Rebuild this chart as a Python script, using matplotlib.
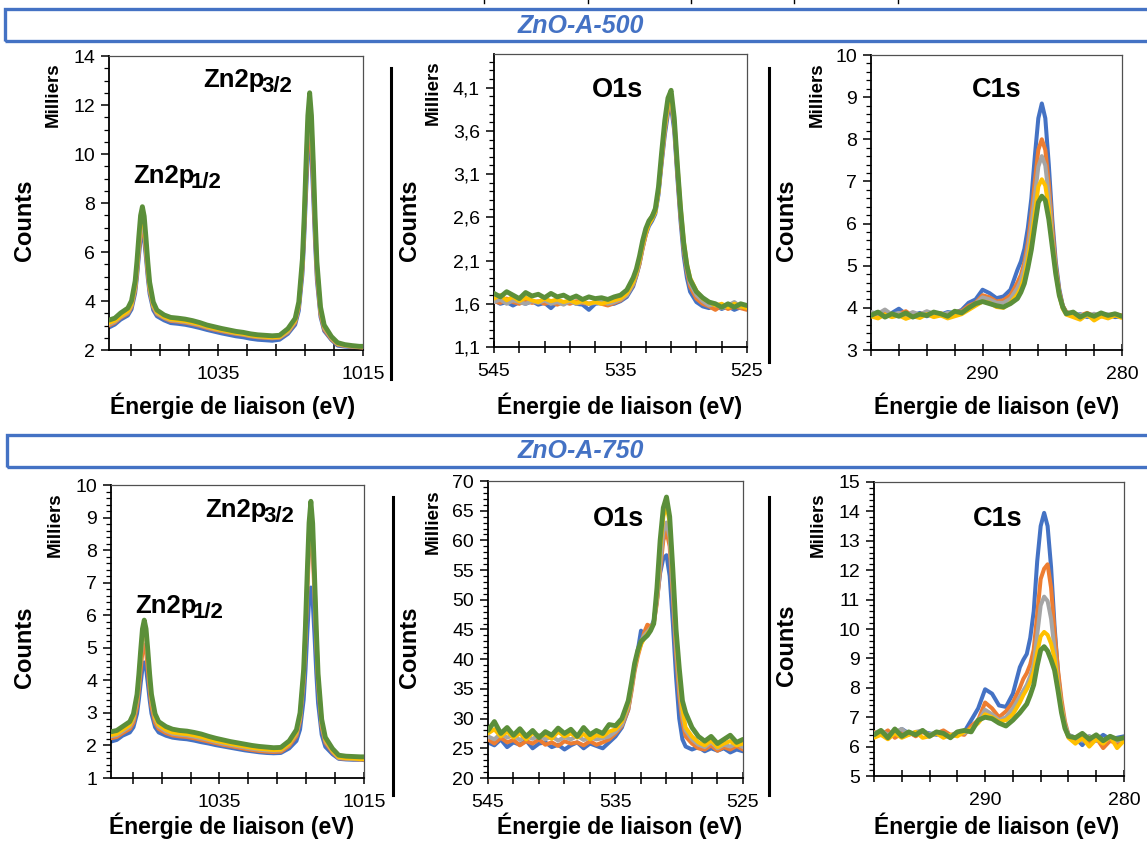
import numpy as np
import matplotlib
matplotlib.use("Agg")
import matplotlib.pyplot as plt
from matplotlib.ticker import MultipleLocator, FixedLocator, FuncFormatter
from matplotlib.patches import Rectangle
from matplotlib.lines import Line2D

plt.rcParams['font.family'] = ['Liberation Sans', 'DejaVu Sans']

# ---------------- DATA ----------------
SERIES_COLORS = ['#4472C4', '#ED7D31', '#A5A5A5', '#FFC000', '#5B8F3A']

# Zn2p binding energies (eV)
X_ZN = [1050, 1049.2,
        1048.4, 1047.4, 1046.9, 1046.4, 1046.15, 1045.9, 1045.65, 1045.4, 1045.15, 1044.9, 1044.65, 1044.4, 1043.9, 1043.4, 1042.4,
        1041.5, 1040.5, 1039.5, 1038.5, 1037.5, 1036.5, 1035.5, 1034.5, 1033.5, 1032.5, 1031.5, 1030.5, 1029.5, 1028.5, 1027.5, 1026.5,
        1025.35, 1024.35, 1023.85, 1023.35, 1023.1, 1022.85, 1022.6, 1022.35, 1022.1, 1021.85, 1021.6, 1021.35, 1020.85, 1020.35, 1019.35,
        1018.5, 1017.5, 1016.5, 1015.5, 1015]

# ZnO-A-500, Zn2p (milliers de counts)
ZN500_BLUE = [2.92, 3.04,
              3.24, 3.41, 3.66, 4.32, 4.97, 5.78, 6.51, 6.8, 6.48, 5.75, 4.94, 4.29, 3.63, 3.38, 3.21,
              3.1, 3.07, 3.03, 2.97, 2.9, 2.82, 2.75, 2.68, 2.62, 2.56, 2.52, 2.46, 2.42, 2.4, 2.38, 2.42,
              2.66, 3.03, 3.6, 5.09, 6.59, 8.4, 10.0, 10.6, 9.95, 8.2, 6.35, 4.85, 3.35, 2.78, 2.41,
              2.18, 2.14, 2.12, 2.1, 2.08]
ZN500_ORANGE = [3.0, 3.12,
                3.32, 3.49, 3.76, 4.45, 5.13, 5.98, 6.74, 7.05, 6.72, 5.96, 5.11, 4.43, 3.74, 3.47, 3.3,
                3.19, 3.16, 3.12, 3.06, 2.99, 2.9, 2.83, 2.77, 2.71, 2.66, 2.62, 2.56, 2.52, 2.5, 2.48, 2.5,
                2.72, 3.12, 3.74, 5.3, 6.9, 8.8, 10.46, 11.2, 10.43, 8.65, 6.7, 5.05, 3.45, 2.84, 2.44,
                2.22, 2.17, 2.13, 2.11, 2.1]
ZN500_GRAY = [3.05, 3.16,
              3.35, 3.53, 3.81, 4.53, 5.25, 6.13, 6.93, 7.25, 6.9, 6.1, 5.22, 4.5, 3.78, 3.5, 3.32,
              3.22, 3.19, 3.15, 3.09, 3.02, 2.93, 2.86, 2.8, 2.74, 2.68, 2.64, 2.58, 2.54, 2.52, 2.5, 2.52,
              2.75, 3.17, 3.81, 5.45, 7.14, 9.18, 10.94, 11.7, 10.9, 9.05, 6.93, 5.22, 3.55, 2.9, 2.48,
              2.24, 2.18, 2.14, 2.12, 2.11]
ZN500_YELLOW = [3.1, 3.2,
                3.38, 3.58, 3.87, 4.63, 5.39, 6.32, 7.16, 7.5, 7.13, 6.29, 5.36, 4.6, 3.84, 3.55, 3.35,
                3.25, 3.22, 3.18, 3.12, 3.05, 2.96, 2.88, 2.82, 2.76, 2.7, 2.66, 2.6, 2.56, 2.54, 2.52, 2.54,
                2.8, 3.2, 3.87, 5.58, 7.4, 9.5, 11.3, 12.2, 11.3, 9.45, 7.27, 5.47, 3.65, 2.96, 2.52,
                2.26, 2.2, 2.16, 2.14, 2.13]
ZN500_GREEN = [3.22, 3.3,
               3.51, 3.71, 4.01, 4.81, 5.62, 6.6, 7.49, 7.85, 7.46, 6.57, 5.59, 4.77, 3.96, 3.63, 3.43,
               3.33, 3.3, 3.26, 3.2, 3.12, 3.02, 2.95, 2.88, 2.82, 2.76, 2.72, 2.66, 2.62, 2.6, 2.58, 2.6,
               2.87, 3.29, 3.96, 5.72, 7.47, 9.63, 11.57, 12.5, 11.57, 9.67, 7.44, 5.6, 3.75, 3.02, 2.55,
               2.3, 2.22, 2.18, 2.15, 2.15]

# ZnO-A-750, Zn2p
ZN750_BLUE = [2.12, 2.17,
              2.3, 2.4, 2.56, 2.98, 3.4, 3.9, 4.37, 4.55, 4.37, 3.9, 3.4, 2.98, 2.56, 2.4, 2.3,
              2.24, 2.21, 2.19, 2.15, 2.1, 2.06, 2.01, 1.97, 1.93, 1.89, 1.85, 1.82, 1.79, 1.77, 1.76, 1.77,
              1.91, 2.14, 2.49, 3.4, 4.3, 5.44, 6.45, 6.85, 6.43, 5.4, 4.23, 3.3, 2.33, 1.96, 1.73,
              1.59, 1.57, 1.56, 1.56, 1.55]
ZN750_ORANGE = [2.22, 2.26,
                2.38, 2.51, 2.7, 3.2, 3.71, 4.32, 4.88, 5.1, 4.88, 4.32, 3.71, 3.2, 2.7, 2.51, 2.38,
                2.31, 2.28, 2.26, 2.22, 2.17, 2.12, 2.07, 2.02, 1.98, 1.94, 1.9, 1.86, 1.83, 1.81, 1.8, 1.81,
                1.99, 2.29, 2.76, 3.97, 5.18, 6.68, 8.03, 8.5, 8.0, 6.62, 5.1, 3.86, 2.56, 2.09, 1.79,
                1.61, 1.59, 1.58, 1.57, 1.57]
ZN750_GRAY = [2.28, 2.32,
              2.44, 2.58, 2.81, 3.38, 3.96, 4.66, 5.3, 5.55, 5.3, 4.66, 3.96, 3.38, 2.81, 2.58, 2.44,
              2.36, 2.33, 2.31, 2.27, 2.22, 2.17, 2.11, 2.06, 2.02, 1.98, 1.94, 1.9, 1.87, 1.85, 1.84, 1.85,
              2.04, 2.36, 2.85, 4.11, 5.38, 6.96, 8.37, 8.9, 8.35, 6.9, 5.3, 4.0, 2.65, 2.14, 1.82,
              1.62, 1.6, 1.59, 1.58, 1.58]
ZN750_YELLOW = [2.32, 2.36,
                2.48, 2.63, 2.86, 3.46, 4.05, 4.78, 5.44, 5.7, 5.44, 4.78, 4.05, 3.46, 2.86, 2.63, 2.48,
                2.4, 2.37, 2.35, 2.31, 2.26, 2.2, 2.14, 2.1, 2.05, 2.01, 1.97, 1.93, 1.9, 1.88, 1.86, 1.87,
                2.06, 2.4, 2.91, 4.22, 5.53, 7.17, 8.62, 9.2, 8.6, 7.1, 5.45, 4.1, 2.72, 2.18, 1.84,
                1.64, 1.61, 1.6, 1.58, 1.58]
ZN750_GREEN = [2.42, 2.46,
               2.58, 2.73, 2.97, 3.57, 4.18, 4.91, 5.58, 5.85, 5.58, 4.91, 4.18, 3.57, 2.97, 2.73, 2.58,
               2.5, 2.46, 2.44, 2.4, 2.35, 2.28, 2.22, 2.17, 2.12, 2.08, 2.04, 2.0, 1.97, 1.95, 1.93, 1.94,
               2.14, 2.48, 3.0, 4.33, 5.68, 7.33, 8.84, 9.5, 8.82, 7.27, 5.6, 4.2, 2.8, 2.25, 1.9,
               1.7, 1.67, 1.66, 1.65, 1.65]

# O1s binding energies (eV)
X_O = [545, 544.5, 544, 543.5, 543, 542.5, 542, 541.5, 541, 540.5, 540, 539.5, 539, 538.5, 538, 537.5,
       537, 536.5, 536, 535.5, 535, 534.5, 534,
       533.75, 533.5, 533.25, 533, 532.75, 532.5, 532.25, 532, 531.75, 531.5, 531.25, 531,
       530.75, 530.5, 530.25, 530, 529.75, 529.5,
       529, 528.5, 528, 527.5, 527, 526.5, 526, 525.5, 525]

O500_BLUE = [1.64, 1.6, 1.62, 1.58, 1.62, 1.6, 1.63, 1.59, 1.61, 1.55, 1.62, 1.6, 1.63, 1.6, 1.59, 1.53,
             1.6, 1.61, 1.59, 1.6, 1.63, 1.68, 1.8,
             1.92, 2.06, 2.25, 2.4, 2.5, 2.56, 2.64, 2.86, 3.22, 3.55, 3.8, 3.88,
             3.6, 3.05, 2.55, 2.15, 1.9, 1.74,
             1.62, 1.57, 1.55, 1.58, 1.54, 1.57, 1.53, 1.56, 1.55]
O500_ORANGE = [1.63, 1.61, 1.66, 1.62, 1.6, 1.64, 1.61, 1.63, 1.6, 1.62, 1.59, 1.62, 1.6, 1.63, 1.61, 1.6,
               1.62, 1.6, 1.58, 1.61, 1.64, 1.7, 1.82,
               1.93, 2.06, 2.24, 2.4, 2.55, 2.62, 2.68, 2.9, 3.25, 3.6, 3.85, 3.93,
               3.66, 3.1, 2.6, 2.22, 1.97, 1.8,
               1.66, 1.6, 1.57, 1.53, 1.58, 1.54, 1.57, 1.55, 1.53]
O500_GRAY = [1.62, 1.65, 1.6, 1.64, 1.62, 1.6, 1.63, 1.61, 1.64, 1.6, 1.62, 1.59, 1.63, 1.6, 1.62, 1.6,
             1.61, 1.63, 1.6, 1.62, 1.65, 1.7, 1.83,
             1.94, 2.08, 2.26, 2.42, 2.54, 2.6, 2.66, 2.88, 3.28, 3.62, 3.88, 3.95,
             3.68, 3.15, 2.65, 2.26, 2.0, 1.84,
             1.7, 1.63, 1.58, 1.6, 1.55, 1.58, 1.62, 1.56, 1.57]
O500_YELLOW = [1.66, 1.7, 1.64, 1.68, 1.63, 1.67, 1.64, 1.62, 1.66, 1.63, 1.65, 1.62, 1.64, 1.61, 1.63, 1.6,
               1.62, 1.6, 1.62, 1.64, 1.66, 1.72, 1.85,
               1.96, 2.1, 2.28, 2.42, 2.52, 2.58, 2.66, 2.9, 3.3, 3.65, 3.9, 3.98,
               3.72, 3.2, 2.72, 2.33, 2.06, 1.9,
               1.75, 1.66, 1.62, 1.58, 1.6, 1.56, 1.6, 1.57, 1.55]
O500_GREEN = [1.72, 1.68, 1.74, 1.7, 1.66, 1.73, 1.69, 1.71, 1.67, 1.72, 1.68, 1.7, 1.66, 1.69, 1.65, 1.68,
              1.66, 1.67, 1.65, 1.68, 1.7, 1.76, 1.9,
              2.0, 2.15, 2.33, 2.47, 2.56, 2.61, 2.7, 2.95, 3.35, 3.72, 3.98, 4.07,
              3.75, 3.2, 2.7, 2.3, 2.04, 1.88,
              1.74, 1.67, 1.62, 1.6, 1.56, 1.6, 1.56, 1.6, 1.58]

O750_BLUE = [26.0, 25.5, 26.5, 25.2, 26.0, 25.6, 26.3, 25.0, 25.8, 26.0, 25.2, 25.6, 24.8, 25.5, 26.0, 25.0,
             25.8, 25.4, 25.0, 26.0, 27.0, 28.5, 31.5,
             35.0, 38.5, 41.5, 44.8, 44.2, 44.5, 45.2, 46.5, 50.0, 54.5, 57.0, 57.5,
             54.0, 46.0, 37.0, 30.0, 26.5, 25.3,
             24.8, 25.2, 24.5, 25.0, 24.6, 25.0, 24.3, 24.8, 24.5]
O750_ORANGE = [26.5, 25.8, 26.8, 26.0, 26.4, 25.5, 26.2, 25.8, 26.5, 25.6, 26.0, 25.4, 26.2, 25.8, 26.0, 25.5,
               26.2, 25.6, 26.0, 26.5, 27.5, 28.8, 31.5,
               34.5, 38.0, 40.5, 42.5, 44.5, 45.8, 45.5, 46.0, 49.5, 55.0, 60.0, 61.5,
               59.0, 50.5, 41.0, 34.0, 29.5, 27.0,
               25.8, 25.0, 24.8, 25.5, 24.6, 25.2, 24.8, 25.4, 24.8]
O750_GRAY = [27.0, 26.5, 27.5, 26.8, 27.2, 26.4, 27.0, 26.6, 27.2, 26.5, 27.0, 26.3, 26.9, 26.5, 27.1, 26.4,
             26.8, 26.5, 26.7, 27.0, 27.8, 29.0, 32.0,
             35.0, 38.5, 41.0, 43.0, 44.0, 44.6, 45.2, 46.0, 50.0, 56.0, 61.5, 63.0,
             60.5, 52.0, 42.5, 35.5, 30.5, 28.0,
             26.5, 25.6, 25.2, 26.0, 25.0, 25.6, 25.3, 25.8, 25.2]
O750_YELLOW = [27.5, 28.2, 27.0, 27.8, 26.8, 27.5, 26.5, 27.6, 27.0, 27.3, 26.6, 27.8, 27.0, 27.5, 26.8, 27.4,
               26.5, 27.2, 27.0, 27.8, 28.2, 29.5, 32.5,
               35.5, 38.8, 41.0, 42.5, 43.5, 44.3, 45.0, 46.0, 51.0, 58.5, 64.0, 66.0,
               63.0, 54.0, 44.0, 37.0, 31.5, 28.5,
               27.0, 26.0, 25.5, 26.3, 25.2, 25.8, 26.2, 25.5, 25.8]
O750_GREEN = [28.0, 29.5, 27.5, 28.5, 27.2, 28.3, 27.0, 28.0, 26.8, 27.8, 27.2, 28.4, 27.5, 28.2, 27.0, 28.5,
              27.3, 28.0, 27.5, 29.0, 28.8, 30.0, 33.0,
              36.0, 39.3, 41.5, 43.0, 43.5, 44.0, 44.8, 46.0, 52.0, 60.0, 65.5, 67.3,
              64.0, 55.0, 45.0, 38.5, 33.0, 31.0,
              28.5, 27.0, 26.2, 27.0, 25.8, 26.5, 27.2, 26.0, 26.5]

# C1s binding energies (eV)
X_C = [298, 297.5, 297, 296.5, 296, 295.5, 295, 294.5, 294, 293.5, 293, 292.5, 292, 291.5, 291, 290.5,
       290, 289.5, 289, 288.5, 288,
       287.5, 287.25, 287, 286.75, 286.5, 286.25, 286, 285.75, 285.5, 285.25, 285, 284.75, 284.5, 284.25, 284,
       283.5, 283, 282.5, 282, 281.5, 281, 280.5, 280]

C500_BLUE = [3.85, 3.9, 3.8, 3.88, 3.98, 3.85, 3.82, 3.88, 3.8, 3.86, 3.84, 3.9, 3.88, 3.95, 4.12, 4.2,
             4.43, 4.35, 4.23, 4.27, 4.43,
             4.9, 5.1, 5.4, 5.9, 6.6, 7.6, 8.5, 8.85, 8.5, 7.4, 6.1, 5.1, 4.45, 4.05, 3.9,
             3.82, 3.85, 3.78, 3.82, 3.8, 3.84, 3.78, 3.8]
C500_ORANGE = [3.88, 3.82, 3.9, 3.84, 3.86, 3.92, 3.8, 3.85, 3.9, 3.83, 3.87, 3.82, 3.9, 3.92, 4.05, 4.12,
               4.3, 4.25, 4.15, 4.18, 4.3,
               4.6, 4.78, 5.08, 5.55, 6.2, 7.0, 7.75, 8.0, 7.75, 6.95, 5.9, 5.0, 4.4, 4.05, 3.9,
               3.85, 3.82, 3.88, 3.8, 3.86, 3.83, 3.85, 3.82]
C500_GRAY = [3.9, 3.86, 3.96, 3.84, 3.88, 3.82, 3.9, 3.84, 3.92, 3.86, 3.82, 3.88, 3.85, 3.9, 4.0, 4.1,
             4.25, 4.2, 4.12, 4.12, 4.22,
             4.47, 4.65, 4.95, 5.38, 5.95, 6.65, 7.35, 7.6, 7.38, 6.65, 5.7, 4.9, 4.35, 4.0, 3.86,
             3.8, 3.84, 3.8, 3.86, 3.8, 3.82, 3.84, 3.78]
C500_YELLOW = [3.8, 3.75, 3.84, 3.78, 3.82, 3.74, 3.8, 3.76, 3.85, 3.78, 3.82, 3.75, 3.8, 3.85, 3.95, 4.05,
               4.15, 4.12, 4.02, 4.0, 4.12,
               4.32, 4.48, 4.75, 5.15, 5.65, 6.25, 6.88, 7.05, 6.9, 6.35, 5.55, 4.85, 4.3, 3.98, 3.84,
               3.78, 3.72, 3.84, 3.7, 3.8, 3.75, 3.82, 3.76]
C500_GREEN = [3.82, 3.9, 3.78, 3.86, 3.8, 3.88, 3.78, 3.85, 3.82, 3.9, 3.86, 3.8, 3.92, 3.88, 4.0, 4.1,
              4.15, 4.1, 4.05, 4.02, 4.1,
              4.22, 4.37, 4.58, 4.95, 5.38, 5.95, 6.5, 6.65, 6.55, 6.1, 5.45, 4.8, 4.3, 4.02, 3.86,
              3.9, 3.78, 3.86, 3.8, 3.88, 3.82, 3.86, 3.8]

C750_BLUE = [6.4, 6.5, 6.45, 6.35, 6.6, 6.45, 6.4, 6.5, 6.45, 6.4, 6.5, 6.35, 6.45, 6.5, 6.9, 7.3,
             7.95, 7.8, 7.4, 7.35, 7.8,
             8.7, 8.95, 9.15, 9.7, 10.6, 12.3, 13.5, 13.95, 13.5, 12.1, 10.1, 8.5, 7.4, 6.7, 6.4,
             6.3, 6.05, 6.35, 6.2, 6.4, 6.25, 6.3, 6.35]
C750_ORANGE = [6.5, 6.4, 6.55, 6.3, 6.45, 6.5, 6.35, 6.5, 6.4, 6.45, 6.55, 6.4, 6.45, 6.4, 6.7, 6.9,
               7.5, 7.3, 7.0, 7.2, 7.5,
               8.0, 8.3, 8.5, 8.8, 9.3, 10.5, 11.7, 12.05, 12.2, 11.4, 9.9, 8.6, 7.6, 6.85, 6.4,
               6.2, 6.4, 6.1, 6.3, 5.95, 6.2, 6.1, 6.3]
C750_GRAY = [6.45, 6.55, 6.4, 6.5, 6.6, 6.4, 6.5, 6.55, 6.4, 6.5, 6.45, 6.35, 6.5, 6.45, 6.6, 6.85,
             7.25, 7.1, 6.9, 7.0, 7.3,
             7.7, 7.9, 8.1, 8.4, 8.8, 9.8, 10.8, 11.1, 10.95, 10.35, 9.3, 8.25, 7.4, 6.75, 6.4,
             6.3, 6.2, 6.35, 6.25, 6.15, 6.3, 6.2, 6.25]
C750_YELLOW = [6.3, 6.4, 6.25, 6.45, 6.3, 6.4, 6.5, 6.3, 6.35, 6.45, 6.3, 6.4, 6.35, 6.5, 6.6, 6.8,
               7.1, 7.0, 6.85, 6.9, 7.1,
               7.5, 7.75, 7.95, 8.2, 8.55, 9.2, 9.75, 9.9, 9.8, 9.5, 9.0, 8.1, 7.3, 6.65, 6.3,
               6.1, 6.3, 6.0, 6.25, 6.1, 6.35, 5.95, 6.2]
C750_GREEN = [6.4, 6.55, 6.3, 6.6, 6.35, 6.5, 6.4, 6.55, 6.35, 6.5, 6.45, 6.3, 6.5, 6.55, 6.5, 6.9,
              7.0, 6.95, 6.8, 6.7, 6.9,
              7.15, 7.3, 7.45, 7.75, 8.1, 8.75, 9.28, 9.4, 9.25, 8.95, 8.6, 7.9, 7.15, 6.62, 6.35,
              6.3, 6.45, 6.25, 6.4, 6.2, 6.35, 6.25, 6.3]

HEADERS = ['ZnO-A-500', 'ZnO-A-750']
PEAK_LABELS = ['O1s', 'C1s']
ZN_MAIN = 'Zn2p'
ZN_SUBS = ['3/2', '1/2']
Y_LABEL = 'Counts'
Y_UNIT = 'Milliers'
X_LABEL = 'Énergie de liaison (eV)'

# ---------------- FIGURE ----------------
W, H = 1147, 846
fig = plt.figure(figsize=(W / 100, H / 100), dpi=100)


def fx(x):
    return x / W


def fy(y):
    return 1 - y / H


def axes_px(l, r, t, b):
    return fig.add_axes([l / W, 1 - b / H, (r - l) / W, (b - t) / H])


def comma_fmt(v, pos):
    return ('%.1f' % v).replace('.', ',')


def style_axes(ax, xlim, xmaj, xmin, ylim, yticks, yminor, fmt=None):
    ax.set_xlim(xlim)
    ax.set_ylim(ylim)
    ax.xaxis.set_major_locator(FixedLocator(xmaj))
    ax.xaxis.set_minor_locator(FixedLocator(xmin))
    ax.set_yticks(yticks)
    ax.yaxis.set_minor_locator(MultipleLocator(yminor))
    if fmt is not None:
        ax.yaxis.set_major_formatter(FuncFormatter(fmt))
    ax.tick_params(axis='y', which='major', direction='out', length=6, width=1.1,
                   labelsize=14, pad=4, colors='black')
    ax.tick_params(axis='y', which='minor', direction='out', length=3.5, width=0.9)
    ax.tick_params(axis='x', which='both', direction='inout', length=9, width=1.1,
                   labelsize=14, pad=7)
    for s in ['left', 'bottom']:
        ax.spines[s].set_color('black')
        ax.spines[s].set_linewidth(1.3)
    for s in ['top', 'right']:
        ax.spines[s].set_color('#505050')
        ax.spines[s].set_linewidth(0.9)


def draw_series(ax, x, ys):
    for i, (y, c) in enumerate(zip(ys, SERIES_COLORS)):
        ax.plot(x, y, color=c, lw=3.5 if i == 4 else 2.9,
                solid_joinstyle='round', solid_capstyle='round', zorder=2 + i)


zn_xmaj = [1035, 1015]
zn_xmin = [1019, 1023, 1027, 1031, 1039, 1043, 1047]
o_xmaj = [545, 535, 525]
o_xmin = [527, 529, 531, 533, 537, 539, 541, 543]
c_xmaj = [290, 280]
c_xmin = [282, 284, 286, 288, 292, 294, 296, 298]

# Row 1 --- ZnO-A-500
ax1 = axes_px(109, 363, 56, 350)
draw_series(ax1, X_ZN, [ZN500_BLUE, ZN500_ORANGE, ZN500_GRAY, ZN500_YELLOW, ZN500_GREEN])
style_axes(ax1, (1050, 1015), zn_xmaj, zn_xmin, (2, 14), np.arange(2, 15, 2), 0.5)

ax2 = axes_px(494, 747, 54, 347)
draw_series(ax2, X_O, [O500_BLUE, O500_ORANGE, O500_GRAY, O500_YELLOW, O500_GREEN])
style_axes(ax2, (545, 525), o_xmaj, o_xmin, (1.1, 4.49),
           np.round(np.arange(1.1, 4.15, 0.5), 1), 0.1, comma_fmt)

ax3 = axes_px(871, 1122, 55, 350)
draw_series(ax3, X_C, [C500_BLUE, C500_ORANGE, C500_GRAY, C500_YELLOW, C500_GREEN])
style_axes(ax3, (298, 280), c_xmaj, c_xmin, (3, 10), np.arange(3, 11, 1), 0.2)

# Row 2 --- ZnO-A-750
ax4 = axes_px(111, 364, 485, 778)
draw_series(ax4, X_ZN, [ZN750_BLUE, ZN750_ORANGE, ZN750_GRAY, ZN750_YELLOW, ZN750_GREEN])
style_axes(ax4, (1050, 1015), zn_xmaj, zn_xmin, (1, 10), np.arange(1, 11, 1), 0.2)

ax5 = axes_px(488, 743, 481, 778)
draw_series(ax5, X_O, [O750_BLUE, O750_ORANGE, O750_GRAY, O750_YELLOW, O750_GREEN])
style_axes(ax5, (545, 525), o_xmaj, o_xmin, (20, 70), np.arange(20, 71, 5), 1)

ax6 = axes_px(874, 1124, 482, 776)
draw_series(ax6, X_C, [C750_BLUE, C750_ORANGE, C750_GRAY, C750_YELLOW, C750_GREEN])
style_axes(ax6, (298, 280), c_xmaj, c_xmin, (5, 15), np.arange(5, 16, 1), 0.2)

# ---- axis titles (Excel-style, outside the plot areas) ----
label_specs = [
    # counts_x, counts_y, milliers_x, milliers_y, xlabel_x, xlabel_y
    (25, 220, 53, 95, 233, 406),
    (410, 220, 433, 93, 620, 406),
    (787, 220, 817, 95, 997, 406),
    (25, 647, 55, 525, 232, 826),
    (410, 647, 433, 522, 620, 826),
    (787, 645, 818, 525, 997, 826),
]
for cx, cy, mx, my, lx, ly in label_specs:
    fig.text(fx(cx), fy(cy), Y_LABEL, rotation=90, ha='center', va='center',
             fontsize=17, fontweight='bold')
    fig.text(fx(mx), fy(my), Y_UNIT, rotation=90, ha='center', va='center',
             fontsize=13.5, fontweight='bold')
    fig.text(fx(lx), fy(ly), X_LABEL, ha='center', va='center',
             fontsize=16.5, fontweight='bold')

# ---- peak annotations ----
for (x, y, sub) in [(203, 87, ZN_SUBS[0]), (133, 183, ZN_SUBS[1]),
                    (205, 517, ZN_SUBS[0]), (135, 613, ZN_SUBS[1])]:
    fig.text(fx(x), fy(y), ZN_MAIN, ha='left', va='baseline', fontsize=18.5, fontweight='bold')
    fig.text(fx(x + 58), fy(y + 5), sub, ha='left', va='baseline', fontsize=16, fontweight='bold')
for (x, y, s) in [(592, 97, PEAK_LABELS[0]), (972, 97, PEAK_LABELS[1]),
                  (593, 526, PEAK_LABELS[0]), (973, 526, PEAK_LABELS[1])]:
    fig.text(fx(x), fy(y), s, ha='left', va='baseline', fontsize=19.5, fontweight='bold')

# ---- header boxes ----
for (top, bot, left, title, ty) in [(9, 41, 5, HEADERS[0], 26), (435, 467, 7, HEADERS[1], 451)]:
    rect = Rectangle((fx(left), fy(bot)), fx(1170 - left), (bot - top) / H,
                     transform=fig.transFigure, fill=False, edgecolor='#4472C4',
                     lw=2.4, clip_on=False)
    fig.add_artist(rect)
    fig.text(fx(581), fy(ty), title, ha='center', va='center', color='#4472C4',
             fontsize=18, fontweight='bold', fontstyle='italic')

# ---- vertical separators between charts ----
for (x, y0, y1) in [(391, 68, 379), (769, 68, 362), (393, 497, 795), (769, 497, 795)]:
    fig.add_artist(Line2D([fx(x), fx(x)], [fy(y0), fy(y1)], color='black', lw=2.2))

# ---- remnants of tick marks from the chart above ----
for x in [484, 588, 691, 794, 898]:
    fig.add_artist(Line2D([fx(x), fx(x)], [fy(0), fy(3)], color='black', lw=1.0))

fig.savefig('out.png', dpi=100)
